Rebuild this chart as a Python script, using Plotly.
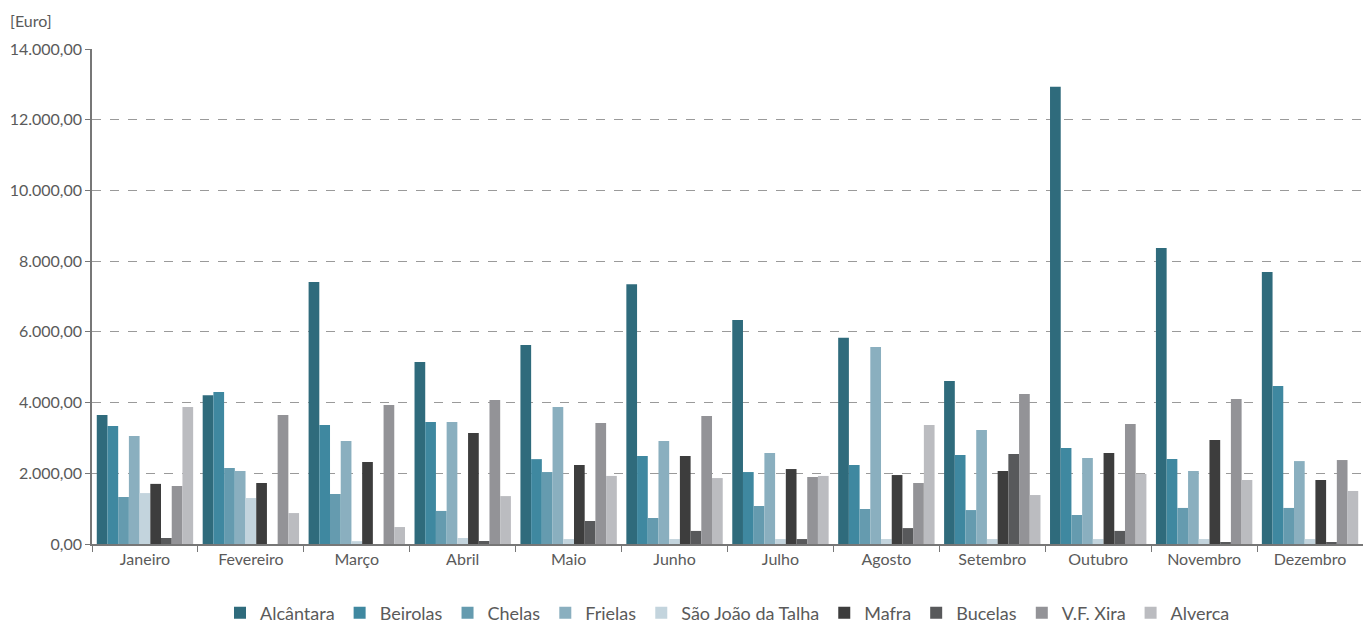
import plotly.graph_objects as go

# Monthly costs per site, in euros
months = ["Janeiro", "Fevereiro", "Março", "Abril", "Maio", "Junho",
          "Julho", "Agosto", "Setembro", "Outubro", "Novembro", "Dezembro"]

alcantara = [3650, 4210, 7410, 5150, 5630, 7350, 6335, 5830, 4610, 12930, 8370, 7690]
beirolas = [3340, 4300, 3365, 3450, 2400, 2490, 2035, 2235, 2515, 2715, 2405, 4470]
chelas = [1330, 2150, 1415, 935, 2035, 735, 1075, 990, 960, 820, 1020, 1020]
frielas = [3055, 2065, 2915, 3450, 3875, 2915, 2575, 5570, 3225, 2430, 2065, 2345]
sao_joao = [1440, 1300, 80, 170, 140, 140, 140, 140, 140, 140, 140, 140]
mafra = [1700, 1725, 2320, 3140, 2235, 2490, 2120, 1950, 2065, 2575, 2940, 1810]
bucelas = [170, 0, 0, 85, 650, 370, 140, 450, 2545, 370, 30, 30]
vf_xira = [1640, 3650, 3930, 4070, 3420, 3620, 1895, 1725, 4240, 3395, 4100, 2375]
alverca = [3875, 875, 480, 1355, 1925, 1865, 1925, 3365, 1385, 1980, 1810, 1500]

series = [
    ("Alcântara", alcantara, "#2f6b7c"),
    ("Beirolas", beirolas, "#3f88a0"),
    ("Chelas", chelas, "#659baf"),
    ("Frielas", frielas, "#8aafbf"),
    ("São João da Talha", sao_joao, "#c3d4dd"),
    ("Mafra", mafra, "#3d3d3d"),
    ("Bucelas", bucelas, "#58595b"),
    ("V.F. Xira", vf_xira, "#939397"),
    ("Alverca", alverca, "#bbbcc0"),
]

FONT = "Gill Sans, Gill Sans MT, Lato, sans-serif"
TEXT = "#5a5a5a"

fig = go.Figure()
for name, values, color in series:
    fig.add_trace(go.Bar(name=name, x=months, y=values,
                         marker=dict(color=color, line=dict(width=0))))

fig.update_layout(
    width=1363, height=623,
    barmode="group", bargap=0.09, bargroupgap=0,
    separators=",.",
    paper_bgcolor="white", plot_bgcolor="white",
    margin=dict(l=92, r=0, t=49, b=79, autoexpand=False),
    font=dict(family=FONT, size=16, color=TEXT),
    legend=dict(orientation="h", x=0.5, xanchor="center",
                yref="container", y=0.016, yanchor="middle",
                font=dict(size=18, color=TEXT), itemwidth=30, tracegroupgap=0,
                traceorder="normal"),
    annotations=[dict(text="[Euro]", xref="paper", yref="paper", x=-0.066, y=1.058,
                      xanchor="left", yanchor="middle", showarrow=False,
                      font=dict(size=16, color=TEXT))],
)

fig.update_yaxes(range=[0, 14000], tickvals=[0, 2000, 4000, 6000, 8000, 10000, 12000, 14000],
                 tickformat=",.2f", showgrid=True, gridcolor="#9a9a9a", griddash="dash",
                 gridwidth=1, showline=True, linecolor="#777777", linewidth=1.5,
                 ticks="outside", ticklen=5, tickcolor="#777777", zeroline=False,
                 tickfont=dict(size=16, color=TEXT))
fig.update_xaxes(showline=True, linecolor="#777777", linewidth=1.5, ticks="outside",
                 tickson="boundaries", ticklen=6, tickcolor="#777777",
                 tickfont=dict(size=16, color=TEXT))

fig.write_html("out.html")
